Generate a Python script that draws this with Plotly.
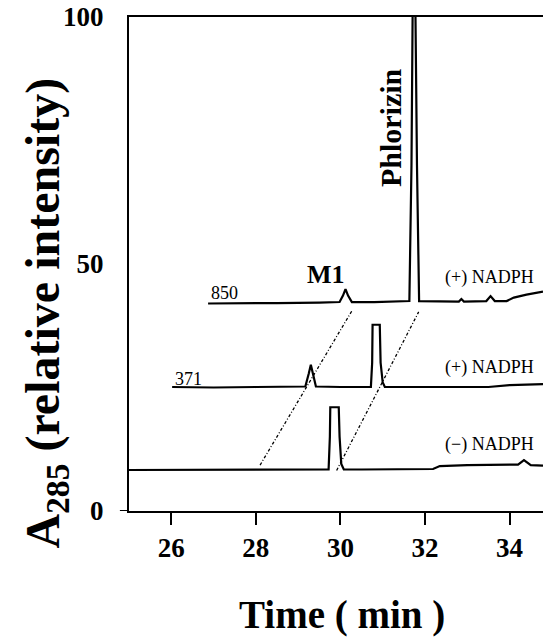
import plotly.graph_objects as go

# Chromatogram traces (time in min, relative intensity)
t_850 = [26.87, 27.5, 28.5, 29.5, 29.98, 30.06, 30.12, 30.18, 30.27, 30.8, 31.4, 31.63, 31.68, 31.71,
         31.77, 31.81, 31.86, 32.2, 32.8, 32.86, 32.92, 33.45, 33.55, 33.65, 33.93, 34.1, 34.4, 34.79]
v_850 = [42.0, 42.0, 42.1, 42.2, 42.3, 43.6, 44.9, 43.6, 42.3, 42.3, 42.4, 42.5, 70, 104,
         104, 70, 42.5, 42.5, 42.4, 42.9, 42.4, 42.5, 43.5, 42.5, 42.5, 43.2, 43.8, 44.4]

t_371 = [26.02, 27.0, 28.0, 29.0, 29.17, 29.25, 29.30, 29.35, 29.42, 30.0, 30.72, 30.75, 30.76,
         30.93, 30.95, 31.0, 31.05, 32.0, 33.0, 33.5, 34.0, 34.79]
v_371 = [25.1, 25.0, 25.1, 25.2, 25.2, 27.8, 29.6, 27.8, 25.2, 25.1, 25.1, 30, 37.7,
         37.7, 30, 26, 25.1, 25.1, 25.1, 25.1, 25.5, 25.7]

t_minus = [25.0, 26.0, 27.0, 28.0, 29.0, 29.72, 29.75, 29.76, 29.96, 29.98, 30.02, 30.08, 30.5,
           31.5, 32.19, 32.35, 33.0, 34.2, 34.34, 34.5, 34.79]
v_minus = [8.3, 8.3, 8.3, 8.3, 8.4, 8.4, 15, 21.0, 21.0, 15, 9.5, 8.4, 8.4,
           8.4, 8.5, 9.1, 9.3, 9.4, 10.3, 9.3, 9.2]

# Dotted guide lines connecting peaks
guide_m1_t = [28.10, 30.27]
guide_m1_v = [9.3, 40.5]
guide_ph_t = [29.91, 31.85]
guide_ph_v = [8.2, 40.3]

x_ticks = [26, 28, 30, 32, 34]
y_ticks = [0, 50, 100]

serif = "Liberation Serif, Times New Roman, serif"

fig = go.Figure()
for t, v in [(t_850, v_850), (t_371, v_371), (t_minus, v_minus)]:
    fig.add_trace(go.Scatter(x=t, y=v, mode="lines", line=dict(color="black", width=2.2),
                             showlegend=False, hoverinfo="skip"))
for t, v in [(guide_m1_t, guide_m1_v), (guide_ph_t, guide_ph_v)]:
    fig.add_trace(go.Scatter(x=t, y=v, mode="lines",
                             line=dict(color="black", width=1.3, dash="3px,2px,1px,2px"),
                             showlegend=False, hoverinfo="skip"))

ann = []
def txt(x, y, s, size, bold=False, xanchor="left", angle=0):
    ann.append(dict(x=x, y=y, xref="x", yref="y", text=(f"<b>{s}</b>" if bold else s),
                    showarrow=False, xanchor=xanchor, yanchor="middle", textangle=angle,
                    font=dict(family=serif, size=size, color="black")))

txt(26.9, 44.2, "850", 18)
txt(26.04, 26.7, "371", 18)
txt(32.42, 47.2, "(+) NADPH", 18)
txt(32.42, 29.1, "(+) NADPH", 18)
txt(32.42, 13.4, "(\u2212) NADPH", 18)
txt(29.66, 47.8, "M1", 26, bold=True, xanchor="center")
txt(31.17, 77.7, "Phlorizin", 30, bold=True, xanchor="center", angle=-90)

ann.append(dict(x=-0.20, y=0.40, xref="paper", yref="paper", xanchor="center", yanchor="middle",
                text="<b>A<sub>285</sub> (relative intensity)</b>", showarrow=False, textangle=-90,
                font=dict(family=serif, size=48, color="black")))
ann.append(dict(x=0.514, y=-0.21, xref="paper", yref="paper", xanchor="center", yanchor="middle",
                text="<b>Time ( min )</b>", showarrow=False,
                font=dict(family=serif, size=39, color="black")))

fig.update_layout(
    width=543, height=638,
    margin=dict(l=129, r=0, t=17, b=127, autoexpand=False),
    paper_bgcolor="white", plot_bgcolor="white",
    annotations=ann,
    shapes=[dict(type="line", xref="paper", yref="y", x0=-0.022, x1=0, y0=0, y1=0,
                 line=dict(color="black", width=2))],
)
fig.update_xaxes(range=[25, 34.79], tickvals=x_ticks, ticktext=[f"<b>{v}</b>" for v in x_ticks],
                 showline=True, linecolor="black", linewidth=2, mirror=True, automargin=False,
                 ticks="outside", ticklen=12, tickwidth=2, tickcolor="black",
                 showgrid=False, zeroline=False,
                 tickfont=dict(family=serif, size=27, color="black"))
fig.update_yaxes(range=[0, 100], tickvals=y_ticks, ticktext=["<b>0</b>", "<b>50</b>", "<b>100</b>"],
                 showline=True, linecolor="black", linewidth=2, mirror=False, automargin=False,
                 ticks="", showgrid=False, zeroline=False, ticklabelstandoff=18,
                 ticklabeloverflow="allow",
                 tickfont=dict(family=serif, size=27, color="black"))

# Remove the browser's default body margin so the figure fills the window exactly.
fig.write_html("out.html", config={"displayModeBar": False},
               post_script="document.body.style.margin='0';")
